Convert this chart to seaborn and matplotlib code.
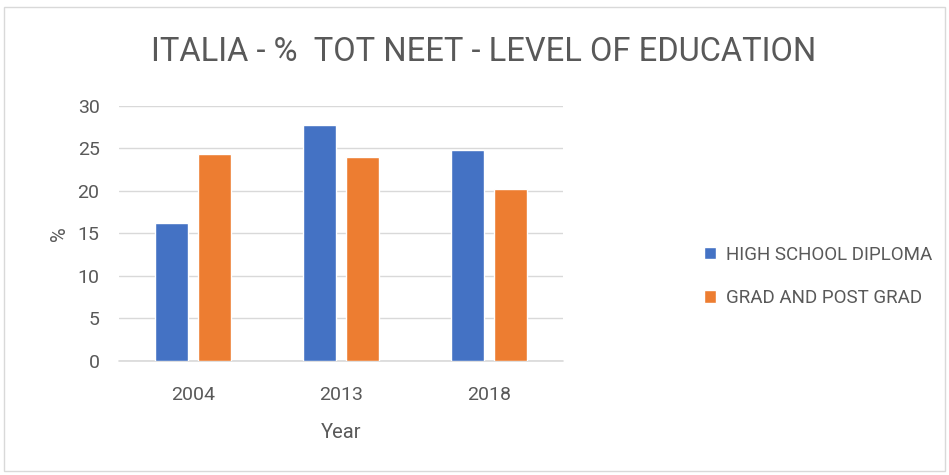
import pandas as pd
import matplotlib.pyplot as plt
import seaborn as sns
from matplotlib.patches import Rectangle

# values
years = ['2004', '2013', '2018']
high_school = [16.2, 27.7, 24.8]
grad_post = [24.3, 24.0, 20.2]
series_names = ['HIGH SCHOOL DIPLOMA', 'GRAD AND POST GRAD']
y_ticks = [0, 5, 10, 15, 20, 25, 30]

df = pd.DataFrame({
    'Year': years * 2,
    'value': high_school + grad_post,
    'level': [series_names[0]] * 3 + [series_names[1]] * 3,
})

sns.set_theme(style='white')
plt.rcParams['font.family'] = ['Roboto', 'DejaVu Sans']
txt = '#595959'

fig = plt.figure(figsize=(9.49, 4.75), dpi=100)
ax = fig.add_axes([0.1254, 0.2406, 0.4679, 0.5369])

sns.barplot(data=df, x='Year', y='value', hue='level',
            palette=['#4472C4', '#ED7D31'], width=0.57, gap=0.22,
            saturation=1, ax=ax, legend=True)

ax.set_ylim(0, 30)
ax.set_yticks(y_ticks)
ax.set_xlim(-0.5, 2.5)
ax.yaxis.grid(True, color='#d9d9d9', linewidth=1)
ax.set_axisbelow(True)
# baseline at zero, drawn unclipped so it shows fully
ax.axhline(0, color='#d9d9d9', linewidth=1.2, clip_on=False, zorder=0.5)
for s in ax.spines.values():
    s.set_visible(False)
ax.tick_params(axis='both', length=0, labelsize=14, colors=txt)
ax.tick_params(axis='y', pad=14)
ax.tick_params(axis='x', pad=18)
ax.set_xlabel('Year', fontsize=14.5, color=txt, labelpad=14)
ax.set_ylabel('%', fontsize=14.5, color=txt, labelpad=6)

h, l = ax.get_legend_handles_labels()
ax.get_legend().remove()
fig.legend(h, l, loc='center left', bbox_to_anchor=(0.728, 0.418),
           frameon=False, fontsize=13.5, labelcolor=txt,
           handlelength=0.65, handleheight=0.65, handletextpad=0.55,
           labelspacing=1.35, borderpad=0.2)

fig.text(0.51, 0.89, 'ITALIA - %  TOT NEET - LEVEL OF EDUCATION',
         ha='center', va='center', fontsize=23.5, color=txt)

fig.patches.append(Rectangle((0.004, 0.008), 0.992, 0.978, transform=fig.transFigure,
                             fill=False, edgecolor='#d9d9d9', linewidth=1))

fig.savefig('out.png', dpi=100)
